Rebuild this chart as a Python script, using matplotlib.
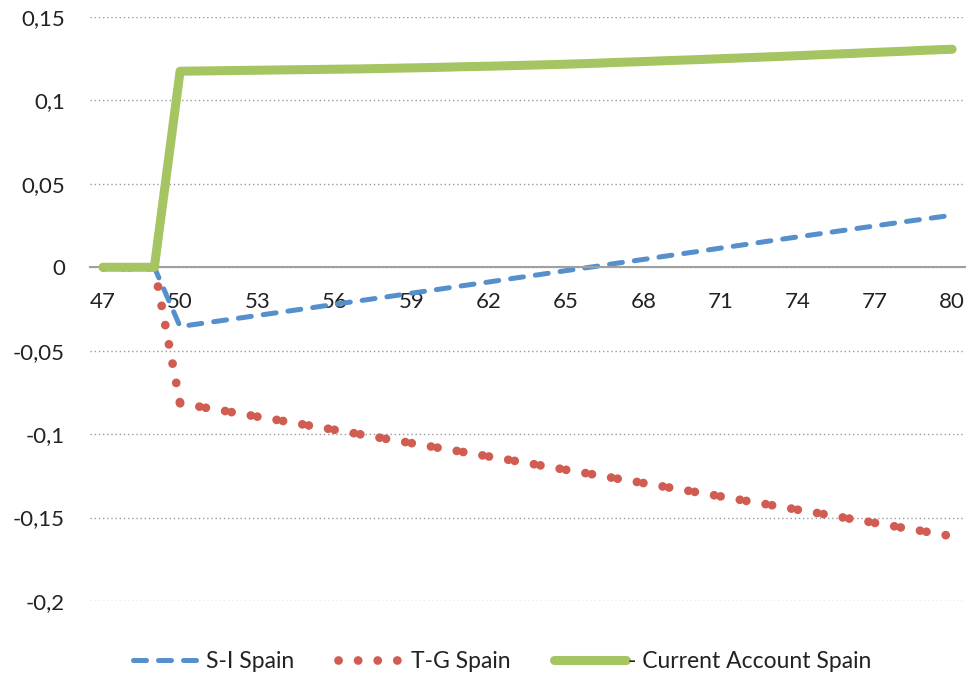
import matplotlib
matplotlib.use("Agg")
import matplotlib.pyplot as plt
from matplotlib.lines import Line2D

plt.rcParams['font.family'] = ['Lato', 'DejaVu Sans']

# periods 47..80
periods = list(range(47, 81))

si_spain = [0, 0, 0,
            -0.0355, -0.0333, -0.0311, -0.0289, -0.0267, -0.0245, -0.0222, -0.0200,
            -0.0178, -0.0155, -0.0133, -0.0110, -0.0088, -0.0065, -0.0043, -0.0020,
            0.0002, 0.0025, 0.0047, 0.0070, 0.0092, 0.0115, 0.0137, 0.0160,
            0.0182, 0.0204, 0.0226, 0.0248, 0.0270, 0.0291, 0.0312]

tg_spain = [0, 0, 0,
            -0.0815, -0.0842, -0.0868, -0.0895, -0.0921, -0.0948, -0.0974, -0.1001,
            -0.1028, -0.1054, -0.1081, -0.1107, -0.1134, -0.1160, -0.1187, -0.1214,
            -0.1240, -0.1267, -0.1293, -0.1320, -0.1346, -0.1373, -0.1400, -0.1426,
            -0.1453, -0.1479, -0.1506, -0.1532, -0.1559, -0.1585, -0.1612]

ca_spain = [0, 0, 0,
            0.1175, 0.1177, 0.1179, 0.1181, 0.1183, 0.1185, 0.1187, 0.1189,
            0.1192, 0.1195, 0.1198, 0.1202, 0.1205, 0.1209, 0.1213, 0.1217,
            0.1222, 0.1228, 0.1233, 0.1239, 0.1244, 0.1250, 0.1256, 0.1262,
            0.1268, 0.1275, 0.1281, 0.1288, 0.1294, 0.1301, 0.1307]

x_ticks = list(range(47, 81, 3))
y_ticks = [-0.2, -0.15, -0.1, -0.05, 0, 0.05, 0.1, 0.15]
y_labels = ['-0,2', '-0,15', '-0,1', '-0,05', '0', '0,05', '0,1', '0,15']

blue = '#5590cc'
red = '#d05c52'
green = '#a5c462'

fig = plt.figure(figsize=(9.69, 6.79), dpi=100)
ax = fig.add_axes([90 / 969, 1 - 601 / 679, 875 / 969, 584 / 679])

# S-I dashed
ax.plot(periods, si_spain, color=blue, lw=3.6, linestyle=(0, (2.6, 2.4)),
        dash_capstyle='round', solid_joinstyle='round', zorder=2)

# T-G round dots, pattern restarts on every segment like in excel
for i in range(len(periods) - 1):
    ax.plot(periods[i:i + 2], tg_spain[i:i + 2], color=red, lw=6.3,
            linestyle=(0, (0.01, 2.23)), dash_capstyle='round', zorder=3)

# current account, thick
ax.plot(periods, ca_spain, color=green, lw=6.5, solid_capstyle='round',
        solid_joinstyle='round', zorder=4)

ax.set_xlim(46.5, 80.5)
ax.set_ylim(-0.2, 0.15)
ax.set_xticks(x_ticks)
ax.set_xticklabels([str(t) for t in x_ticks])
ax.set_yticks(y_ticks)
ax.set_yticklabels(y_labels)
ax.tick_params(axis='x', length=0, pad=17.5, labelsize=16, colors='#222222')
ax.tick_params(axis='y', length=0, pad=18, labelsize=16, colors='#222222')

ax.set_axisbelow(True)
ax.yaxis.grid(True, color='#9a9a9a', lw=1.0, linestyle=(0, (1, 2)))
for s in ['left', 'right', 'top']:
    ax.spines[s].set_visible(False)
ax.spines['bottom'].set_position(('data', 0))
ax.spines['bottom'].set_color('#a0a0a0')
ax.spines['bottom'].set_linewidth(1.5)

handles = [
    Line2D([], [], color=blue, lw=3.6, linestyle=(0, (2.6, 2.4)), dash_capstyle='round'),
    Line2D([], [], color=red, lw=6.3, linestyle=(0, (0.01, 2.23)), dash_capstyle='round'),
    Line2D([], [], color=green, lw=6.5, solid_capstyle='round'),
]
labels = ['S-I Spain', 'T-G Spain', '- Current Account Spain']
fig.legend(handles, labels, loc='center', bbox_to_anchor=(502 / 969, 1 - 662 / 679),
           ncol=3, frameon=False, fontsize=16.5, handlelength=3.1, handletextpad=0.1,
           columnspacing=1.9, labelcolor='#222222')

fig.savefig('out.png', dpi=100)
